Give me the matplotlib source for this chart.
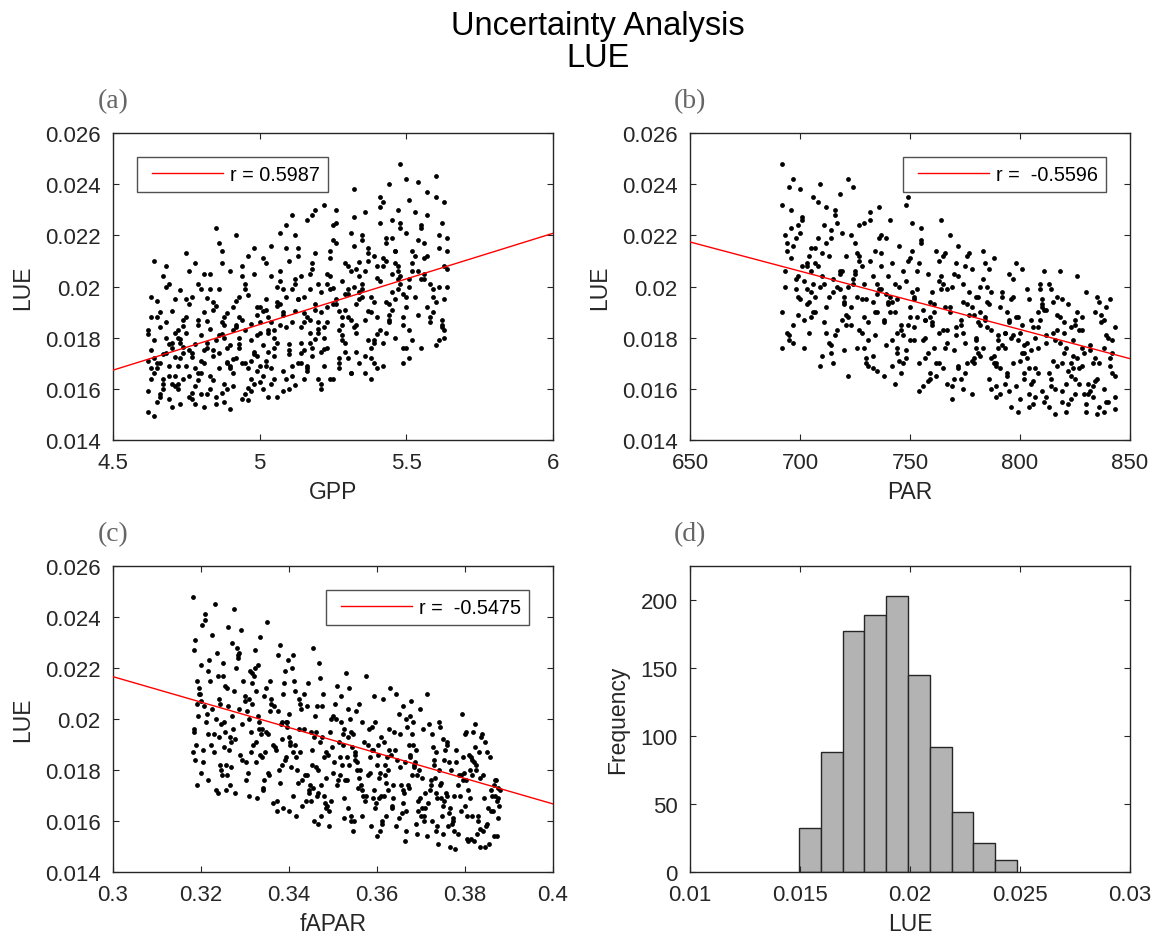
import numpy as np
import matplotlib
matplotlib.use("Agg")
import matplotlib.pyplot as plt
from matplotlib.ticker import FuncFormatter
from matplotlib.legend_handler import HandlerLine2D

plt.rcParams['font.family'] = ['Liberation Sans', 'DejaVu Sans']

# ---- data ----
# (a) GPP (x0.01) vs LUE (x1e-5)
gpp_a = [462,470,465,467,463,469,471,464,466,468,462,467,470,463,465,469,464,471,466,468,463,470,462,466,469,465,471,464,467,468,
         472,479,474,476,481,473,478,475,480,477,472,476,479,474,481,473,477,480,475,478,472,474,476,479,473,481,477,475,480,478,
         482,488,485,490,483,487,491,484,486,489,482,485,488,491,483,486,489,484,487,490,482,486,490,483,488,485,491,484,487,489,
         492,499,495,497,501,493,498,494,500,496,492,497,500,494,498,493,501,496,499,495,492,494,497,500,493,499,496,501,495,498,
         502,509,505,507,511,503,508,504,510,506,502,507,510,504,508,503,511,506,509,505,502,504,507,510,503,509,506,511,505,508,
         512,518,515,520,513,517,521,514,516,519,512,515,518,521,513,516,519,514,517,520,512,516,520,513,518,515,521,514,517,519,
         522,529,525,527,531,523,528,524,530,526,522,527,530,524,528,523,531,526,529,525,522,524,527,530,523,529,526,531,525,528,
         532,538,535,540,533,537,541,534,536,539,532,535,538,541,533,536,539,534,537,540,532,536,540,533,538,535,541,534,537,539,
         542,549,545,547,551,543,548,544,550,546,542,547,550,544,548,543,551,546,549,545,542,544,547,550,543,549,546,551,545,548,
         552,558,564,555,561,553,559,563,556,562,554,560,557,552,564,555,561,558,553,563,556,559,562,554,557,560,564,563,555,561,
         463,467,470,462,465,469,464,468,471,466,462,465,468,470,463,466,469,471,464,467,
         473,477,480,472,475,479,474,478,481,476,472,475,478,480,473,476,479,481,474,477,
         483,487,490,482,485,489,484,488,491,486,482,485,488,490,483,486,489,491,484,487,
         493,497,500,492,495,499,494,498,501,496,492,495,498,500,493,496,499,501,494,497,
         503,507,510,502,505,509,504,508,511,506,502,505,508,510,503,506,509,511,504,507,
         513,517,520,512,515,519,514,518,521,516,512,515,518,520,513,516,519,521,514,517,
         523,527,530,522,525,529,524,528,531,526,522,525,528,530,523,526,529,531,524,527,
         533,537,540,532,535,539,534,538,541,536,532,535,538,540,533,536,539,541,534,537,
         543,547,550,542,545,549,544,548,551,546,542,545,548,550,543,546,549,551,544,547,
         553,557,562,552,556,560,564,554,559,563,555,558,561,552,557,560,563,554,556,562]
lue_a = [1710,1530,1880,1620,1960,1775,1650,1495,1840,2080,1590,1735,1905,1680,1550,2010,1790,1610,1700,1860,1640,1760,1815,1570,1690,1945,1725,1660,2040,1800,
         1620,1870,1740,2060,1530,1795,1680,1950,1710,1585,1830,1650,2010,1765,1900,1540,1725,1810,1690,2090,1600,1845,1750,1635,1985,1700,1560,1880,1660,1775,
         1780,1550,1925,1690,1835,2140,1610,1750,1990,1705,1865,1570,1800,1660,2050,1740,1895,1635,1815,1520,1955,1680,1770,1600,1850,2230,1715,1910,1585,1760,
         1840,1670,2010,1590,1905,1760,2150,1700,1860,1555,1945,1790,1625,2080,1735,1880,1650,1965,1810,1580,1720,2040,1855,1690,1775,1920,1605,2110,1830,1745,
         1710,1960,1830,2210,1650,1880,1590,2040,1775,1925,1690,1850,2100,1620,1990,1745,1860,1570,2150,1800,1910,1680,2060,1735,1830,1640,1940,2280,1760,1890,
         2030,1760,1895,1640,2150,1820,1980,1700,2260,1910,1615,1860,2070,1745,1950,1670,2300,1840,1780,2010,1905,1690,1835,2120,1730,1960,1620,2040,1870,1795,
         1755,2090,1930,1680,2210,1860,2020,1640,1970,2300,1800,1905,1720,2140,1880,2050,1660,1950,1780,2240,1840,1990,1700,2080,1920,1745,2170,1870,1995,1810,
         2000,1720,2180,1880,2070,1790,2310,1950,1660,2120,1840,2010,1760,2250,1930,2060,1700,1980,2150,1815,2380,1870,2035,1745,1960,2200,1830,2095,1905,1780,
         2110,1850,2260,1990,1720,2170,2040,1890,2420,1950,1780,2080,2210,1930,2480,1820,2030,2140,1700,1980,2330,1870,2060,1960,2190,1760,2090,2000,1910,2250,
         2060,1880,2000,2240,1790,2120,1960,2330,2050,1850,2180,2430,1920,2090,2070,1760,2150,2010,2290,1830,2110,1990,2250,1890,2370,1940,2140,1800,2030,2200,
         1880,1600,1780,1510,1700,1650,2100,1740,1950,1580,1830,1680,2000,1620,1750,1900,1560,1820,1720,1640,
         1720,1960,1580,1800,2130,1660,1870,1540,1750,1930,1690,1820,1610,1990,1780,1570,1850,2050,1640,1740,
         1650,1860,2060,1580,1790,1700,1940,1620,1830,2170,1760,1540,1880,1680,1990,1810,1600,1920,1730,2090,
         1960,1640,1820,2200,1700,1890,1560,2050,1770,1680,1850,1990,1620,1920,1800,2120,1730,1600,1870,1710,
         1820,2020,1600,1950,1730,2240,1860,1670,1990,1780,2090,1640,1900,1750,1570,2000,1840,1690,2160,1930,
         1700,1990,1860,2200,1640,1930,1780,2090,1600,1880,2010,1750,2280,1820,1950,1680,2130,1900,1740,2050,
         2010,1720,1880,2320,1640,1970,2110,1790,2060,1930,1690,2180,1850,1990,1760,2250,1910,1660,2040,1830,
         1850,2100,1680,2270,1960,1790,2040,1900,2350,1730,2160,1990,1640,2080,1820,2290,1940,2020,1700,2130,
         1940,2300,1760,2080,2190,1880,2400,2010,1830,2140,1690,2050,2230,1920,2100,1800,1970,2340,1860,2030,
         1960,2280,1840,2140,2030,1770,2190,2410,1900,2080,2230,1860,2000,1790,2120,2350,1950,2060,2170,1870]

# (b) PAR vs LUE (x1e-5)
par_b = [692,700,696,704,693,698,702,706,695,699,694,701,705,697,703,692,699,706,696,702,693,704,698,700,695,705,697,703,694,701,
         707,714,710,718,708,713,716,721,709,715,711,719,712,717,720,707,713,709,716,721,710,714,718,708,712,719,711,717,715,720,
         722,729,725,733,723,728,731,736,724,730,726,734,727,732,735,722,728,724,731,736,725,729,733,723,727,734,726,732,730,735,
         737,744,740,748,738,743,746,751,739,745,741,749,742,747,750,737,743,739,746,751,740,744,748,738,742,749,741,747,745,750,
         752,759,755,763,753,758,761,766,754,760,756,764,757,762,765,752,758,754,761,766,755,759,763,753,757,764,756,762,760,765,
         767,774,770,778,768,773,776,781,769,775,771,779,772,777,780,767,773,769,776,781,770,774,778,768,772,779,771,777,775,780,
         782,789,785,793,783,788,791,796,784,790,786,794,787,792,795,782,788,784,791,796,785,789,793,783,787,794,786,792,790,795,
         797,804,800,808,798,803,806,811,799,805,801,809,802,807,810,797,803,799,806,811,800,804,808,798,802,809,801,807,805,810,
         812,819,815,823,813,818,821,826,814,820,816,824,817,822,825,812,818,814,821,826,815,819,823,813,817,824,816,822,820,825,
         827,834,830,838,843,828,833,841,836,831,839,829,835,842,837,832,840,827,843,834,830,838,841,828,836,832,839,835,842,833,
         693,697,703,692,699,705,695,701,706,698,694,700,704,696,702,692,699,705,697,703,
         708,712,718,707,714,720,710,716,721,713,709,715,719,711,717,707,714,720,712,718,
         723,727,733,722,729,735,725,731,736,728,724,730,734,726,732,722,729,735,727,733,
         738,742,748,737,744,750,740,746,751,743,739,745,749,741,747,737,744,750,742,748,
         753,757,763,752,759,765,755,761,766,758,754,760,764,756,762,752,759,765,757,763,
         768,772,778,767,774,780,770,776,781,773,769,775,779,771,777,767,774,780,772,778,
         783,787,793,782,789,795,785,791,796,788,784,790,794,786,792,782,789,795,787,793,
         798,802,808,797,804,810,800,806,811,803,799,805,809,801,807,797,804,810,802,808,
         813,817,823,812,819,825,815,821,826,818,814,820,824,816,822,812,819,825,817,823,
         828,832,838,843,830,836,841,834,839,827,833,840,829,835,842,831,837,843,828,838]
lue_b = [2480,1950,2300,1820,2060,2190,1760,2010,2390,1890,2140,2270,1980,1780,2090,1900,2040,2350,2230,1870,2000,2120,1990,2210,1810,2060,2420,1930,2170,2080,
         1900,2220,1730,2050,2330,1960,1810,2120,2400,1700,2010,1870,2170,2250,1940,2090,1780,2000,2300,1850,2130,1740,1990,2190,1920,2060,2240,1830,2030,1960,
         2420,1880,2050,1680,2200,1950,1790,2310,2010,1720,2130,1900,1830,2260,1970,1650,2080,2390,1860,1990,2170,1760,2040,1920,2240,1810,1960,2100,1700,2010,
         2080,1760,1940,2320,1650,2010,1850,1980,2190,1710,1900,2350,1790,2060,1880,2130,1620,1970,1830,2250,1930,1740,2020,1870,1690,2100,1960,1810,2160,1920,
         1950,1660,2230,1820,2060,1740,1900,2130,1590,1980,1790,2260,1870,1700,2010,1840,1630,2090,1930,1760,2170,1880,1700,1990,1800,2040,1910,1650,1860,2120,
         1780,2010,1640,1920,2200,1850,1700,1960,1560,2080,1810,1890,1680,2130,1760,1990,1870,1610,1930,1740,2050,1820,1580,1900,2160,1720,1840,1980,1660,1790,
         1850,1610,2000,1760,2140,1700,1920,1530,1880,1790,2070,1650,1830,1960,1590,1730,2110,1870,1680,1800,1940,1570,1820,2030,1720,1900,1640,1980,1760,1860,
         1700,1950,1560,1840,2090,1780,1630,1910,1510,1870,1740,2010,1660,1800,1590,1960,1720,1880,1540,2060,1820,1680,1900,1610,1770,1990,1850,1570,1750,1930,
         1810,1590,1940,1700,1530,1880,1760,2040,1640,1820,1500,1730,1960,1670,1850,1570,1780,1990,1620,1900,1710,1550,1840,2010,1690,1790,1600,1930,1740,1870,
         1680,1900,1540,1760,1520,1830,1610,1950,1700,1580,1810,1740,1500,1660,1890,1770,1550,1620,1840,1720,1980,1600,1690,1880,1530,1750,1920,1640,1790,1570,
         2200,1850,2080,2320,1960,2150,1790,2260,1900,2030,1820,2380,1940,2110,2020,1760,2240,1880,2160,1990,
         2080,1820,2360,1960,2190,1750,2040,2280,1890,2120,1690,1980,2210,1860,2000,2150,1770,1930,2310,2060,
         1850,2120,1730,2000,2250,1900,2060,1690,2190,1820,2030,1950,2140,1760,2290,1880,2010,1670,2100,1940,
         1860,2090,1720,2200,1950,1790,2040,1660,2140,1900,1770,2000,1850,2260,1700,1990,1820,2110,1940,1750,
         1880,1720,2100,1960,1640,1830,2180,1760,1920,2050,1700,1850,1990,1610,2140,1790,1940,1680,1870,2020,
         1920,1690,2070,1830,1600,1960,1750,2120,1860,1640,2000,1780,1700,2090,1890,1620,1940,1800,2040,1710,
         1760,1980,1620,1900,1700,2050,1840,1580,1950,1730,2090,1810,1660,1930,1770,2000,1690,1870,1600,1820,
         1880,1640,1760,2030,1580,1920,1710,1840,1550,1990,1790,1620,1870,2070,1680,1810,1530,1950,1740,1660,
         1660,1890,1560,1780,1950,1640,1820,1510,1720,2060,1610,1860,1680,1790,1540,1910,1700,1580,1830,1650,
         1760,1590,1870,1650,1510,1940,1720,1630,1550,1830,1700,1800,1580,1960,1740,1620,1860,1570,1690,1510]

# (c) fAPAR (x1e-4) vs LUE (x1e-5)
fapar_c = [3182,3215,3198,3240,3187,3226,3205,3249,3192,3233,3210,3184,3220,3244,3200,3189,3236,3212,3195,3247,3224,3181,3207,3238,3217,3193,3229,3203,3242,3186,
           3252,3285,3268,3310,3257,3296,3275,3319,3262,3303,3280,3254,3290,3314,3270,3259,3306,3282,3265,3317,3294,3251,3277,3308,3287,3263,3299,3273,3312,3256,
           3322,3355,3338,3380,3327,3366,3345,3389,3332,3373,3350,3324,3360,3384,3340,3329,3376,3352,3335,3387,3364,3321,3347,3378,3357,3333,3369,3343,3382,3326,
           3392,3425,3408,3450,3397,3436,3415,3459,3402,3443,3420,3394,3430,3454,3410,3399,3446,3422,3405,3457,3434,3391,3417,3448,3427,3403,3439,3413,3452,3396,
           3462,3495,3478,3520,3467,3506,3485,3529,3472,3513,3490,3464,3500,3524,3480,3469,3516,3492,3475,3527,3504,3461,3487,3518,3497,3473,3509,3483,3522,3466,
           3532,3565,3548,3590,3537,3576,3555,3599,3542,3583,3560,3534,3570,3594,3550,3539,3586,3562,3545,3597,3574,3531,3557,3588,3567,3543,3579,3553,3592,3536,
           3602,3635,3618,3660,3607,3646,3625,3669,3612,3653,3630,3604,3640,3664,3620,3609,3656,3632,3615,3667,3644,3601,3627,3658,3637,3613,3649,3623,3662,3606,
           3672,3705,3688,3730,3677,3716,3695,3739,3682,3723,3700,3674,3710,3734,3690,3679,3726,3702,3685,3737,3714,3671,3697,3728,3707,3683,3719,3693,3732,3676,
           3742,3775,3758,3800,3747,3786,3765,3809,3752,3793,3770,3744,3780,3804,3760,3749,3796,3772,3755,3807,3784,3741,3767,3798,3777,3753,3789,3763,3802,3746,
           3812,3845,3828,3870,3817,3856,3835,3879,3822,3863,3840,3814,3850,3874,3830,3819,3866,3842,3825,3877,3854,3811,3837,3868,3847,3823,3859,3833,3872,3816,
           3185,3219,3201,3243,3190,3230,3208,3246,3196,3235,3213,3183,3223,3239,3204,3191,3232,3216,3199,3245,
           3255,3289,3271,3313,3260,3300,3278,3316,3266,3305,3283,3253,3293,3309,3274,3261,3302,3286,3269,3315,
           3325,3359,3341,3383,3330,3370,3348,3386,3336,3375,3353,3323,3363,3379,3344,3331,3372,3356,3339,3385,
           3395,3429,3411,3453,3400,3440,3418,3456,3406,3445,3423,3393,3433,3449,3414,3401,3442,3426,3409,3455,
           3465,3499,3481,3523,3470,3510,3488,3526,3476,3515,3493,3463,3503,3519,3484,3471,3512,3496,3479,3525,
           3535,3569,3551,3593,3540,3580,3558,3596,3546,3585,3563,3533,3573,3589,3554,3541,3582,3566,3549,3595,
           3605,3639,3621,3663,3610,3650,3628,3666,3616,3655,3633,3603,3643,3659,3624,3611,3652,3636,3619,3665,
           3675,3709,3691,3733,3680,3720,3698,3736,3686,3725,3703,3673,3713,3729,3694,3681,3722,3706,3689,3735,
           3745,3779,3761,3803,3750,3790,3768,3806,3756,3795,3773,3743,3783,3799,3764,3751,3792,3776,3759,3805,
           3815,3849,3831,3873,3820,3860,3838,3876,3826,3865,3843,3813,3853,3869,3834,3821,3862,3846,3829,3875]
lue_c = [2480,1760,2100,1930,2310,2040,1880,2220,1740,2000,2410,1960,2150,1820,2070,1900,2260,1990,2120,1780,2330,1870,2050,1710,2190,2010,1940,2370,2080,1840,
         1990,2240,1810,2080,1720,2150,2430,1900,2050,1760,2200,1950,2350,1870,2010,2120,1790,2280,1930,2060,1840,2170,1710,2000,2260,1880,2090,1960,2190,1820,
         2200,1780,1960,2290,1690,2050,1870,2140,1990,1640,2380,1910,2080,1820,1730,2010,2250,1940,1860,2100,1670,2170,1950,1800,2030,2320,1890,1760,1980,2110,
         1840,2060,1700,1950,2230,1780,1620,2010,1900,2140,1750,1990,1660,2280,1870,1930,1720,2080,1810,1600,1960,2190,1850,1740,2040,1910,1680,2110,1820,1970,
         1950,1680,2100,1820,1590,2000,1870,2180,1740,1910,1640,2050,1790,1960,1700,2220,1850,1580,1930,1760,2060,1810,1660,1990,1890,1620,2130,1770,1940,1710,
         1760,1990,1600,1880,2120,1700,1830,1540,1950,1790,2060,1650,1910,1720,1860,2000,1580,1800,1940,1670,2170,1850,1730,1970,1620,1890,1780,2030,1690,1820,
         1900,1650,1780,2050,1560,1840,1720,1970,1600,1810,2120,1690,1880,1520,1750,1930,1630,1860,1700,2000,1580,1820,1960,1670,1740,2080,1610,1850,1710,1790,
         1730,1960,1590,1840,2070,1670,1800,1510,1900,1760,1620,2010,1710,1870,1550,1780,1940,1650,1820,1580,2100,1740,1690,1890,1600,1810,1980,1640,1770,1850,
         1800,1560,1700,1940,1620,1780,1500,1860,1680,2020,1590,1740,1830,1530,1910,1660,1760,1610,1880,1720,1550,1990,1650,1790,1490,1840,1700,1630,1950,1750,
         1690,1910,1550,1760,1620,1850,1500,1720,1980,1640,1780,1530,1870,1690,1600,1950,1740,1560,1820,1660,1510,1800,1930,1700,1580,1890,1640,1770,1540,1840,
         1950,2230,1790,2060,2150,1870,2390,1980,2100,1720,2020,2270,1900,2170,1830,2060,2450,1940,2210,1800,
         2130,1860,2300,1950,1780,2070,1920,2180,1740,2030,2250,1890,1980,1700,2110,2360,1830,2040,1910,2140,
         1830,2060,1720,1990,2210,1880,2120,1650,1940,2030,1790,2270,1900,1750,2090,1960,1680,2150,1850,1920,
         1990,1760,2150,1880,1640,2050,1800,1930,2200,1710,1960,1850,2100,1680,1900,2020,1780,1870,2250,1730,
         1800,2010,1670,1900,2160,1740,1860,1610,2050,1780,1950,1700,1830,2090,1650,1910,1760,2000,1850,1690,
         1930,1700,1840,2090,1620,1900,1770,1990,1560,1850,1740,2040,1680,1880,1800,1600,1960,1720,1870,1650,
         1770,1950,1620,1830,1700,2020,1880,1560,1910,1740,1660,1860,2100,1720,1800,1590,1940,1690,1820,1640,
         1860,1650,1780,1560,1940,1720,2040,1690,1830,1600,1770,1900,1540,1820,1680,1990,1740,1620,1880,1710,
         1690,1880,1580,1760,1920,1640,1800,1520,1710,1850,1600,1970,1740,1660,1830,1550,1780,1700,1900,1620,
         1780,1590,1870,1680,1520,1720,1940,1610,1800,1540,1690,1850,1650,1760,1570,1830,1700,1500,1620,1730]

# least-squares lines, LUE at the left / right x limits
fit_a = [0.01673, 0.02208]
fit_b = [0.02174, 0.01718]
fit_c = [0.02166, 0.01667]
r_labels = ['r = 0.5987', 'r =  -0.5596', 'r =  -0.5475']

# (d) histogram of LUE
hist_counts = [32, 88, 177, 189, 203, 145, 92, 44, 21, 9]
hist_lo, hist_hi = 0.01495, 0.02487

DARK = '#262626'
TICK_FS = 16
LABEL_FS = 16.5
LEG_FS = 14.3

fig = plt.figure(figsize=(11.59, 9.37), dpi=100)
W, H = 1159, 937

def add_ax(left, top, width=440, height=307):
    return fig.add_axes([left / W, 1 - (top + height) / H, width / W, height / H])

ax_a = add_ax(113, 134)
ax_b = add_ax(690, 134)
ax_c = add_ax(113, 567, height=306)
ax_d = add_ax(690, 567, height=306)

fmt = FuncFormatter(lambda v, p: '%g' % round(v, 6))


class InsetLine(HandlerLine2D):
    # legend line starts a little right of the box edge, like the original
    def get_xdata(self, legend, xdescent, ydescent, width, height, fontsize):
        xd, xm = super().get_xdata(legend, xdescent, ydescent, width, height, fontsize)
        xd = [xd[0] + 0.38 * fontsize, xd[-1]]
        return xd, xm


def style(ax):
    for s in ax.spines.values():
        s.set_color(DARK)
        s.set_linewidth(1.0)
    ax.tick_params(direction='in', top=True, right=True, length=4.5, width=0.8,
                   colors=DARK, labelsize=TICK_FS, pad=9)
    ax.xaxis.set_major_formatter(fmt)
    ax.yaxis.set_major_formatter(fmt)


def scatter_panel(ax, x, y, xlim, xticks, xlabel, fit, rlab, loc):
    ax.scatter(x, y, s=12, c='k', linewidths=0, zorder=2)
    ln, = ax.plot(xlim, fit, color='red', lw=1.0, label=rlab, zorder=3)
    ax.set_xlim(xlim)
    ax.set_ylim(0.014, 0.026)
    ax.set_xticks(xticks)
    ax.set_yticks(np.arange(0.014, 0.0261, 0.002))
    ax.set_xlabel(xlabel, fontsize=LABEL_FS, color=DARK, labelpad=5)
    ax.set_ylabel('LUE', fontsize=LABEL_FS, color=DARK, labelpad=8)
    leg = ax.legend(loc=loc, fontsize=LEG_FS, frameon=True, fancybox=False,
                    borderpad=0.4, handlelength=3.95, handletextpad=0.36,
                    borderaxespad=1.2, handler_map={ln: InsetLine()})
    leg.get_frame().set_edgecolor(DARK)
    leg.get_frame().set_linewidth(1.0)
    style(ax)


scatter_panel(ax_a, np.array(gpp_a) / 100, np.array(lue_a) / 1e5, [4.5, 6],
              [4.5, 5, 5.5, 6], 'GPP', fit_a, r_labels[0], 'upper left')
scatter_panel(ax_b, np.array(par_b), np.array(lue_b) / 1e5, [650, 850],
              [650, 700, 750, 800, 850], 'PAR', fit_b, r_labels[1], 'upper right')
scatter_panel(ax_c, np.array(fapar_c) / 1e4, np.array(lue_c) / 1e5, [0.3, 0.4],
              [0.3, 0.32, 0.34, 0.36, 0.38, 0.4], 'fAPAR', fit_c, r_labels[2], 'upper right')

edges = np.linspace(hist_lo, hist_hi, len(hist_counts) + 1)
ax_d.bar(edges[:-1], hist_counts, width=np.diff(edges), align='edge',
         color='#b3b3b3', edgecolor=DARK, linewidth=1.0)
ax_d.set_xlim(0.01, 0.03)
ax_d.set_ylim(0, 225)
ax_d.set_xticks([0.01, 0.015, 0.02, 0.025, 0.03])
ax_d.set_yticks([0, 50, 100, 150, 200])
ax_d.set_xlabel('LUE', fontsize=LABEL_FS, color=DARK, labelpad=5)
ax_d.set_ylabel('Frequency', fontsize=LABEL_FS, color=DARK, labelpad=8)
style(ax_d)

for ax, lab in zip([ax_a, ax_b, ax_c, ax_d], ['(a)', '(b)', '(c)', '(d)']):
    ax.annotate(lab, xy=(0, 1), xycoords='axes fraction', xytext=(0, 23),
                textcoords='offset points', ha='center', va='center',
                fontsize=20, family='Liberation Serif', color='#666666')

fig.text(0.516, 1 - 11 / H, 'Uncertainty Analysis\nLUE', ha='center', va='top',
         fontsize=23.5, color='k', linespacing=1.05)

fig.savefig('out.png', dpi=100)
